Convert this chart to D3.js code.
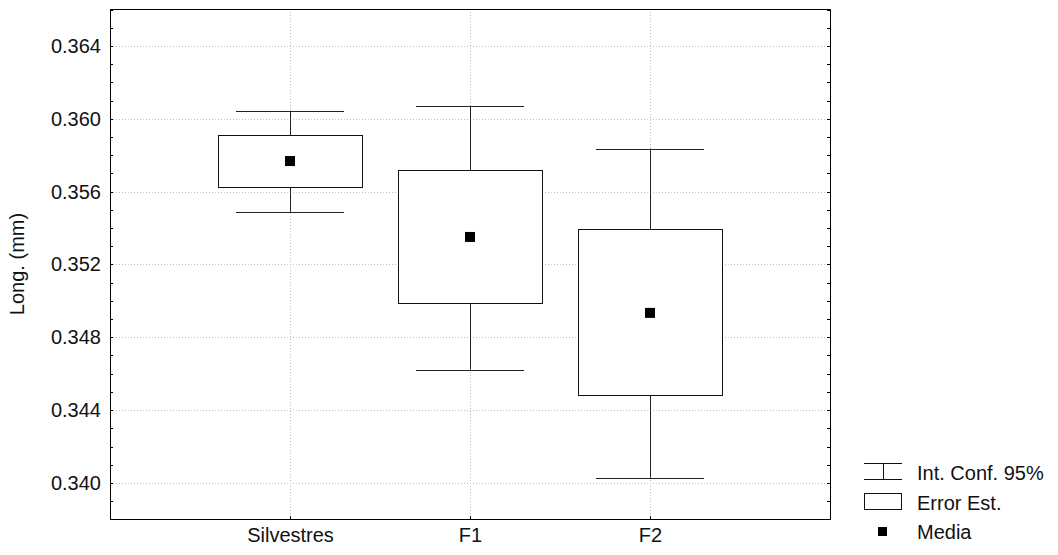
<!DOCTYPE html>
<html>
<head>
<meta charset="utf-8">
<script src="https://cdn.jsdelivr.net/npm/d3@7"></script>
<style>
  body { margin: 0; background: #fff; }
  text { font-family: "Liberation Sans", Arial, sans-serif; }
</style>
</head>
<body>
<div id="chart"></div>
<script>
// data
let categories = ["Silvestres", "F1", "F2"]
let means      = [0.35768, 0.35351, 0.34934]
let seLow      = [0.35627, 0.34989, 0.34480]
let seHigh     = [0.35910, 0.35717, 0.35393]
let ciLow      = [0.35487, 0.34623, 0.34029]
let ciHigh     = [0.36045, 0.36072, 0.35836]
let yTicks     = [0.340, 0.344, 0.348, 0.352, 0.356, 0.360, 0.364]
let legendLabels = ["Int. Conf. 95%", "Error Est.", "Media"]

let W = 1058, H = 555
let margin = {top: 9, right: 228, bottom: 36, left: 110}
let width = W - margin.left - margin.right,
    height = H - margin.top - margin.bottom

let svg = d3.select("#chart").append("svg")
    .attr("width", W).attr("height", H)

let g = svg.append("g")
    .attr("transform", "translate(" + margin.left + "," + margin.top + ")")

let x = d3.scalePoint().domain(categories).range([0, width]).padding(1)
let y = d3.scaleLinear().domain([0.33802, 0.36603]).range([height, 0])
let step = x.step()

let minor = d3.range(0.338, 0.3661, 0.001)

// grid lines
g.append("g").selectAll("line").data(yTicks).join("line")
    .attr("x1", 0).attr("x2", width)
    .attr("y1", d => Math.round(y(d)) + 0.5).attr("y2", d => Math.round(y(d)) + 0.5)
    .attr("stroke", "#bdbdbd").attr("stroke-dasharray", "1,2")
g.append("g").selectAll("line").data(categories).join("line")
    .attr("y1", 0).attr("y2", height)
    .attr("x1", d => Math.round(x(d)) + 0.5).attr("x2", d => Math.round(x(d)) + 0.5)
    .attr("stroke", "#bdbdbd").attr("stroke-dasharray", "1,2")

// axes
let yAxis = g.append("g")
    .call(d3.axisLeft(y).tickValues(yTicks).tickFormat(d3.format(".3f")).tickSize(0).tickPadding(9))
yAxis.select(".domain").remove()
yAxis.selectAll("text").attr("font-size", 20).attr("fill", "#111")

let xAxis = g.append("g").attr("transform", "translate(0," + height + ")")
    .call(d3.axisBottom(x).tickSize(0).tickPadding(9))
xAxis.select(".domain").remove()
xAxis.selectAll("text").attr("font-size", 20).attr("fill", "#111")

// inner ticks on left and right
g.append("g").selectAll("line").data(minor).join("line")
    .attr("x1", 0).attr("x2", 3)
    .attr("y1", d => Math.round(y(d)) + 0.5).attr("y2", d => Math.round(y(d)) + 0.5)
    .attr("stroke", "#000")
g.append("g").selectAll("line").data(minor).join("line")
    .attr("x1", width - 3).attr("x2", width)
    .attr("y1", d => Math.round(y(d)) + 0.5).attr("y2", d => Math.round(y(d)) + 0.5)
    .attr("stroke", "#000")
g.append("g").selectAll("line").data(categories).join("line")
    .attr("x1", d => Math.round(x(d)) + 0.5).attr("x2", d => Math.round(x(d)) + 0.5)
    .attr("y1", height - 3).attr("y2", height)
    .attr("stroke", "#000")

// frame
g.append("rect")
    .attr("x", 0.5).attr("y", 0.5).attr("width", width).attr("height", height)
    .attr("fill", "none").attr("stroke", "#000")

// y label
svg.append("text")
    .attr("transform", "translate(24," + (margin.top + height / 2) + ") rotate(-90)")
    .attr("text-anchor", "middle").attr("font-size", 20).attr("fill", "#111")
    .text("Long. (mm)")

// whiskers
let items = g.append("g").selectAll("g").data(categories).join("g")
items.append("line")
    .attr("x1", d => Math.round(x(d)) + 0.5).attr("x2", d => Math.round(x(d)) + 0.5)
    .attr("y1", (d, i) => y(ciLow[i])).attr("y2", (d, i) => y(ciHigh[i]))
    .attr("stroke", "#222")
items.append("line")
    .attr("x1", d => x(d) - step * 0.3).attr("x2", d => x(d) + step * 0.3)
    .attr("y1", (d, i) => Math.round(y(ciHigh[i])) + 0.5).attr("y2", (d, i) => Math.round(y(ciHigh[i])) + 0.5)
    .attr("stroke", "#222")
items.append("line")
    .attr("x1", d => x(d) - step * 0.3).attr("x2", d => x(d) + step * 0.3)
    .attr("y1", (d, i) => Math.round(y(ciLow[i])) + 0.5).attr("y2", (d, i) => Math.round(y(ciLow[i])) + 0.5)
    .attr("stroke", "#222")

// boxes
items.append("rect")
    .attr("x", d => Math.round(x(d) - step * 0.4) + 0.5)
    .attr("width", step * 0.8)
    .attr("y", (d, i) => Math.round(y(seHigh[i])) + 0.5)
    .attr("height", (d, i) => Math.round(y(seLow[i]) - y(seHigh[i])))
    .attr("fill", "#fff").attr("stroke", "#111")

// means
items.append("rect")
    .attr("x", d => x(d) - 5).attr("width", 10)
    .attr("y", (d, i) => y(means[i]) - 5).attr("height", 10)
    .attr("fill", "#000")

// legend
let legend = svg.append("g").attr("transform", "translate(864,463)")
legend.append("line").attr("x1", 0).attr("x2", 38).attr("y1", 0.5).attr("y2", 0.5).attr("stroke", "#111")
legend.append("line").attr("x1", 0).attr("x2", 38).attr("y1", 16.5).attr("y2", 16.5).attr("stroke", "#111")
legend.append("line").attr("x1", 19.5).attr("x2", 19.5).attr("y1", 0).attr("y2", 16).attr("stroke", "#111")
legend.append("rect").attr("x", 0.5).attr("y", 30.5).attr("width", 37).attr("height", 16)
    .attr("fill", "#fff").attr("stroke", "#111")
legend.append("rect").attr("x", 14).attr("y", 64).attr("width", 9).attr("height", 9).attr("fill", "#000")
legend.selectAll("text.lbl").data(legendLabels).join("text")
    .attr("class", "lbl")
    .attr("x", 53).attr("y", (d, i) => 10 + i * 29.5)
    .attr("dy", "0.35em")
    .attr("font-size", 20).attr("fill", "#111")
    .text(d => d)
</script>
</body>
</html>
